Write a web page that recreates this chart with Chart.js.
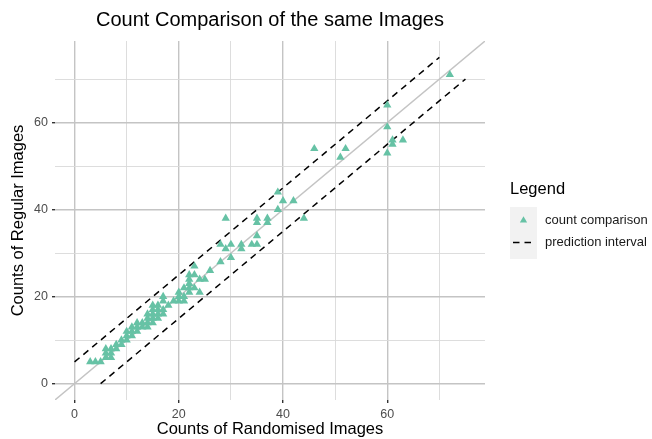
<!DOCTYPE html>
<html>
<head>
<meta charset="utf-8">
<script src="https://cdn.jsdelivr.net/npm/chart.js@4.4.1/dist/chart.umd.min.js"></script>
<style>
  html, body { margin: 0; padding: 0; background: #fff; }
</style>
</head>
<body>
<canvas id="comparison-chart" width="652" height="439"></canvas>
<script>
// counts per image: randomised order (x) vs regular order (y)
const randomisedCounts = [3, 4, 5, 6, 6, 6, 7, 7, 7, 8, 8, 9, 9, 10, 10, 10, 11, 11, 11, 12, 12, 12, 13, 13,
  14, 14, 14, 14, 15, 15, 15, 15, 15, 16, 16, 16, 16, 17, 17, 17, 17, 18, 19, 20, 20, 20, 21, 21, 21,
  22, 22, 22, 22, 22, 23, 23, 23, 24, 24, 25, 26, 28, 28, 29, 29, 30, 30, 32, 32, 34, 35, 35, 35, 35,
  37, 37, 39, 39, 40, 42, 44, 46, 51, 52, 60, 60, 60, 61, 61, 63, 72];
const regularCounts = [5, 5, 5, 6, 7, 8, 6, 7, 8, 8, 9, 9, 10, 10, 11, 12, 11, 12, 13, 12, 13, 14, 13, 14,
  13, 14, 15, 16, 14, 15, 16, 17, 18, 15, 16, 17, 18, 16, 17, 19, 20, 18, 19, 19, 20, 21, 19, 20, 22,
  21, 22, 23, 24, 25, 22, 25, 27, 21, 24, 24, 26, 28, 32, 31, 38, 29, 32, 31, 32, 32, 32, 34, 37, 38,
  37, 38, 40, 44, 42, 42, 38, 54, 52, 54, 53, 59, 64, 55, 56, 56, 71];

// prediction interval end points
const upperX = [0, 70];
const upperY = [5, 75];
const lowerX = [5, 75];
const lowerY = [0, 70];

// axis range and grid
const axisMin = -3.75;
const axisMax = 78.75;
const gridValues = [0, 10, 20, 30, 40, 50, 60, 70];

const pointColour = '#66c2a5';
const fontFamily = '"Liberation Sans", Arial, sans-serif';

const toPoints = (xs, ys) => xs.map((x, i) => ({ x: x, y: ys[i] }));

const isMajor = v => v % 20 === 0;

const axisOptions = (titleText, titlePadding) => ({
  type: 'linear',
  min: axisMin,
  max: axisMax,
  afterBuildTicks: scale => { scale.ticks = gridValues.map(v => ({ value: v })); },
  border: { display: false },
  grid: {
    color: ctx => isMajor(ctx.tick.value) ? '#c4c4c4' : '#d9d9d9',
    lineWidth: ctx => isMajor(ctx.tick.value) ? 1.4 : 0.9,
    tickColor: ctx => isMajor(ctx.tick.value) ? '#333333' : 'rgba(0,0,0,0)',
    tickWidth: 1.4,
    tickLength: 3
  },
  ticks: {
    padding: 4,
    color: '#4d4d4d',
    font: { family: fontFamily, size: 12.5 },
    callback: v => isMajor(v) ? v : ''
  },
  title: {
    display: true,
    text: titleText,
    color: '#000',
    padding: titlePadding,
    font: { family: fontFamily, size: 16.5 }
  }
});

const xAxis = axisOptions('Counts of Randomised Images', { top: 0, bottom: 0 });
xAxis.position = 'bottom';
xAxis.afterFit = scale => { scale.height = 39; };

const yAxis = axisOptions('Counts of Regular Images', { top: 9, bottom: 0 });
yAxis.position = 'left';
yAxis.afterFit = scale => { scale.width = 55; };

// ggplot style legend with grey key boxes
const sideLegend = {
  id: 'sideLegend',
  afterDraw(chart) {
    const ctx = chart.ctx;
    const sets = chart.data.datasets;
    const pts = sets.find(d => d.type === 'scatter' || !d.type);
    const dashed = sets.find(d => d.borderDash);
    ctx.save();
    ctx.textBaseline = 'middle';
    ctx.fillStyle = '#000';
    ctx.font = '16.5px ' + fontFamily;
    ctx.fillText('Legend', 510, 189);

    ctx.fillStyle = '#f2f2f2';
    ctx.fillRect(510, 207, 27, 52);

    ctx.fillStyle = pointColour;
    Chart.helpers.drawPoint(ctx, { pointStyle: 'triangle', radius: 4.2, rotation: 0, borderWidth: 0 }, 523.5, 220.5);

    ctx.strokeStyle = '#000';
    ctx.lineWidth = 1.5;
    ctx.setLineDash([6.5, 5]);
    ctx.beginPath();
    ctx.moveTo(513, 242.5);
    ctx.lineTo(535, 242.5);
    ctx.stroke();
    ctx.setLineDash([]);

    ctx.fillStyle = '#1a1a1a';
    ctx.font = '13px ' + fontFamily;
    ctx.fillText(pts.label, 545, 220);
    ctx.fillText(dashed.label, 545, 242);
    ctx.restore();
  }
};

new Chart(document.getElementById('comparison-chart'), {
  type: 'scatter',
  data: {
    datasets: [
      {
        label: 'count comparison',
        data: toPoints(randomisedCounts, regularCounts),
        backgroundColor: pointColour,
        borderWidth: 0,
        pointStyle: 'triangle',
        pointRadius: 4.8,
        pointHoverRadius: 4.8,
        order: 0
      },
      {
        type: 'line',
        label: 'prediction interval',
        data: toPoints(upperX, upperY),
        borderColor: '#000',
        borderWidth: 1.5,
        borderDash: [6.5, 5],
        pointRadius: 0,
        fill: false,
        order: 1
      },
      {
        type: 'line',
        label: 'prediction interval',
        data: toPoints(lowerX, lowerY),
        borderColor: '#000',
        borderWidth: 1.5,
        borderDash: [6.5, 5],
        pointRadius: 0,
        fill: false,
        order: 1
      },
      {
        type: 'line',
        label: 'y = x',
        data: [{ x: axisMin, y: axisMin }, { x: axisMax, y: axisMax }],
        borderColor: '#c4c4c4',
        borderWidth: 1.4,
        pointRadius: 0,
        fill: false,
        order: 2
      }
    ]
  },
  options: {
    responsive: false,
    animation: false,
    layout: { padding: { left: 0, right: 167, top: 0, bottom: 0 } },
    scales: { x: xAxis, y: yAxis },
    plugins: {
      legend: { display: false },
      tooltip: { enabled: false },
      title: {
        display: true,
        fullSize: false,
        text: 'Count Comparison of the same Images',
        color: '#000',
        padding: { top: 8, bottom: 9 },
        font: { family: fontFamily, size: 20, weight: 'normal' }
      }
    }
  },
  plugins: [sideLegend]
});
</script>
</body>
</html>
